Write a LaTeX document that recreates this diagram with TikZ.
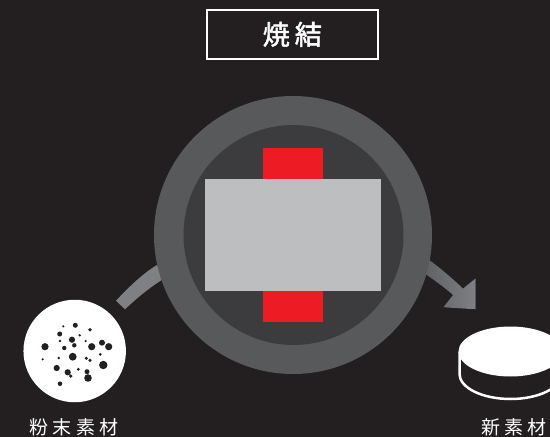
\documentclass[tikz,border=0pt]{standalone}
\usepackage{fontspec}
\usepackage{xcolor}
\usepackage{tikz}
\usetikzlibrary{positioning, calc}
\newfontfamily\jpfont{Noto Sans CJK JP}
\newfontfamily\jptitlefont[FakeBold=2]{Noto Sans CJK JP}
\definecolor{bgdark}{HTML}{231F20}
\definecolor{ringgray}{HTML}{58595B}
\definecolor{coregray}{HTML}{3C3C3E}
\definecolor{blockgray}{HTML}{BCBEC0}
\definecolor{punchred}{HTML}{ED1C24}
\definecolor{arrowgray}{HTML}{7F8083}
\tikzset{
  caption/.style={text=white,font=\jpfont\fontsize{19}{19}\selectfont,inner sep=0pt},
  powderdot/.style={fill=bgdark,draw=none}
}

\begin{document}
\begin{tikzpicture}[x=1pt,y=-1pt]
\clip (0,0) rectangle (550,437);
\useasboundingbox (0,0) rectangle (550,437);
% Background
\fill[bgdark] (0,0) rectangle (550,437);
% Arrows
\fill[arrowgray] (116,300.7) .. controls (128,288) and (142,274) .. (157,265) -- (165,278) .. controls (150,287) and (137,298) .. (125,309.3) -- cycle;
\fill[left color=ringgray!80!arrowgray,right color=arrowgray] (428,259) .. controls (439,267) and (451,277) .. (463,288.5) -- (475.7,278.3) -- (475.7,309.3) -- (443.3,307.3) -- (453,295) .. controls (444,287) and (435,281) .. (424,273) -- cycle;
% Sintering chamber
\node[circle,fill=ringgray,minimum size=278pt,inner sep=0pt] (ring) at (293,235) {};
\node[circle,fill=coregray,minimum size=220pt,inner sep=0pt] (core) at (293.5,235) {};
\fill[punchred] (263,148) rectangle (323,322);
\fill[blockgray] (205,179) rectangle (381,291);
% Title
\node[draw=white,line width=1.7pt,minimum width=171pt,minimum height=49pt,inner sep=0pt,text=white,font=\jptitlefont\fontsize{27}{27}\selectfont] (title) at (292.3,34.3) {焼\hspace{5pt}結};
% Powder
\node[circle,fill=white,minimum size=102.5pt,inner sep=0pt] (powder) at (74.7,351) {};
\foreach \x/\y/\r in {75.3/325.3/2.5, 63.3/326.3/1.2, 90/329.7/1.8, 59.7/334/2.5, 79.7/335.3/1.3, 72/339.7/3.1,
  60/341/1.3, 85.7/341/1.2, 74.3/345.3/2.2, 64.3/348/2.2, 45/346.7/3.6, 91.7/346.7/3.6, 102/342.7/3, 108.7/346.7/3.6,
  100.3/354.3/1.5, 72.7/356.7/3.9, 58.7/358/1.4, 42.7/359.3/1.2, 86.3/358.3/1.7, 90/360.3/1.7, 103.3/365/4.2,
  56.7/368/3.1, 78.3/369.3/1.6, 67.7/372.3/3.1, 70.7/376/1.8, 87/371.7/2.5, 88/378/3.8, 60/383.7/2.3}
  \fill[powderdot] (\x,\y) circle (\r);
\node[caption] (powderlabel) at (74,427) {粉\hspace{4.5pt}末\hspace{4.5pt}素\hspace{4.5pt}材};
% New material
\draw[white,line width=2.5pt] (459.5,351.5) -- (459.5,374) arc[start angle=180,end angle=0,x radius=51,y radius=25] -- (561.5,351.5);
\fill[white] (510.5,351.5) ellipse (52 and 25);
\node[caption] (disclabel) at (514,427) {新\hspace{4.5pt}素\hspace{4.5pt}材};
\end{tikzpicture}
\end{document}
